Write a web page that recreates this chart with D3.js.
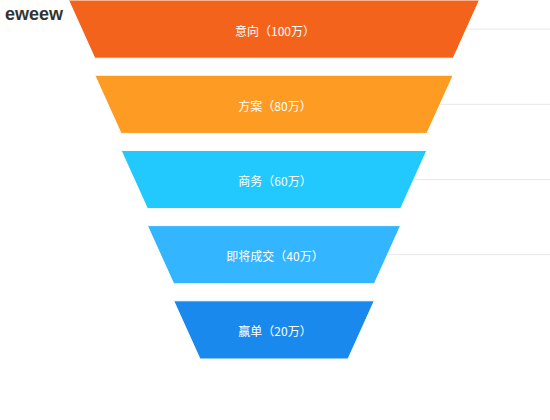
<!DOCTYPE html>
<html>
<head>
<meta charset="utf-8">
<script src="https://cdn.jsdelivr.net/npm/d3@7"></script>
<style>
  body { margin: 0; background: #fff; }
  svg { display: block; font-family: "Noto Sans CJK SC", "Noto Sans", sans-serif; }
</style>
</head>
<body>
<div id="chart"></div>
<script>
const stages = ['意向', '方案', '商务', '即将成交', '赢单']
const values = [100, 80, 60, 40, 20]
const colors = ['#f4631b', '#fe9b23', '#22c9ff', '#34b5ff', '#1a89ee']

const width = 550
const height = 420
const cx = 274

const svg = d3.select('#chart')
  .append('svg')
  .attr('width', width)
  .attr('height', height)

// width of a slice edge for a given value
const size = d3.scaleLinear().domain([0, 100]).range([148, 411])
// vertical bands, one per stage
const y = d3.scaleBand().domain(stages).range([0, 359]).paddingInner(0.226)

const pieces = stages.map((s, i) => ({
  name: s,
  value: values[i],
  next: i + 1 < values.length ? values[i + 1] : 0,
  color: colors[i],
  last: i === stages.length - 1,
}))

const trapezoid = (d) => {
  const top = y(d.name)
  const bot = top + y.bandwidth()
  const w0 = size(d.value) / 2
  const w1 = size(d.next) / 2
  return `M${cx - w0},${top}L${cx + w0},${top}L${cx + w1},${bot}L${cx - w1},${bot}Z`
}

// faint guide lines off the right edge
svg.selectAll('line.guide')
  .data(pieces.filter((d) => !d.last))
  .enter().append('line')
  .attr('class', 'guide')
  .attr('x1', (d) => cx + (size(d.value) + size(d.next)) / 4)
  .attr('x2', width)
  .attr('y1', (d) => y(d.name) + y.bandwidth() / 2)
  .attr('y2', (d) => y(d.name) + y.bandwidth() / 2)
  .style('stroke', '#e8e8e8')
  .style('stroke-width', 1)

svg.selectAll('path.piece')
  .data(pieces)
  .enter().append('path')
  .attr('class', 'piece')
  .attr('d', trapezoid)
  .style('fill', (d) => d.color)
  .style('stroke', '#fff')
  .style('stroke-width', 1)

svg.selectAll('text.label')
  .data(pieces)
  .enter().append('text')
  .attr('class', 'label')
  .attr('x', cx + 1)
  .attr('y', (d) => y(d.name) + y.bandwidth() / 2 + 1)
  .attr('dominant-baseline', 'central')
  .style('text-anchor', 'middle')
  .style('font-size', '12px')
  .style('fill', '#fff')
  .text((d) => `${d.name}（${d.value}万）`)

svg.append('text')
  .attr('x', 5)
  .attr('y', 20)
  .style('font-family', '"Liberation Sans", Arial, sans-serif')
  .style('font-size', '18px')
  .style('font-weight', 'bold')
  .style('fill', '#333')
  .text('eweew')
</script>
</body>
</html>
